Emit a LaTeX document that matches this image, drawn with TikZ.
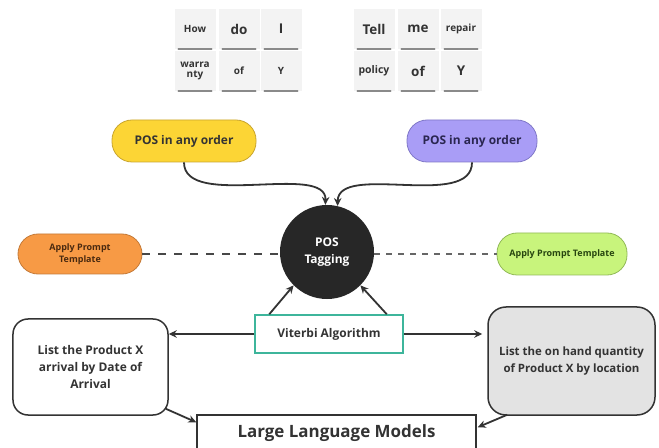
\documentclass[tikz,border=0pt]{standalone}
\usepackage{fontspec}
\setmainfont{Open Sans}
\usetikzlibrary{arrows.meta}
\definecolor{txt}{HTML}{333333}
\definecolor{tilebg}{HTML}{F3F3F3}
\definecolor{tileshadow}{HTML}{8A8A8A}
\definecolor{yfill}{HTML}{FCD535}
\definecolor{ydraw}{HTML}{C9A52E}
\definecolor{pfill}{HTML}{A99DF6}
\definecolor{pdraw}{HTML}{8078C8}
\definecolor{ofill}{HTML}{F79A45}
\definecolor{odraw}{HTML}{C47A38}
\definecolor{gfill}{HTML}{C8F47C}
\definecolor{gdraw}{HTML}{92BA58}
\definecolor{circfill}{HTML}{272727}
\definecolor{teal}{HTML}{3DB59B}
\definecolor{boxgray}{HTML}{E3E3E3}
\definecolor{linecol}{HTML}{333333}
\tikzset{
  tile/.style={rectangle, minimum width=41bp, minimum height=40bp, inner sep=0pt,
    fill=tilebg, align=center, text=txt, font=\bfseries\fontsize{10}{11}\selectfont},
  bigtile/.style={tile, font=\bfseries\fontsize{13.5}{15}\selectfont},
  pill/.style={rectangle, rounded corners=20bp, minimum height=42bp, line width=0.8bp,
    align=center, inner sep=2pt},
  arr/.style={-{Stealth[length=8bp,width=7.5bp]}, line width=1.8bp, draw=linecol},
}
\begin{document}
\begin{tikzpicture}[x=1bp,y=-1bp, font=\bfseries]
\clip (0,0) rectangle (659,448);
\fill[white] (0,0) rectangle (659,448);

% word tiles
\node[tile]    (t1) at (195,29) {How};
\node[bigtile] (t2) at (239,29) {do};
\node[bigtile] (t3) at (281,29) {I};
\node[tile]    (t4) at (195,71) {warra\\[-1pt]nty};
\node[tile]    (t5) at (239,71) {of};
\node[tile]    (t6) at (281,71) {Y};
\node[bigtile] (t7) at (374,29) {Tell};
\node[bigtile] (t8) at (418,29) {me};
\node[tile]    (t9) at (461,29) {repair};
\node[tile, font=\bfseries\fontsize{10.5}{12}\selectfont] (t10) at (374,71) {policy};
\node[bigtile] (t11) at (418,71) {of};
\node[bigtile] (t12) at (461,71) {Y};
\foreach \t in {t1,t2,t3,t4,t5,t6,t7,t8,t9,t10,t11,t12}{
  \draw[tileshadow, line width=1.5bp, line cap=round]
    ([shift={(4,0)}]\t.south west) -- ([shift={(-4,0)}]\t.south east);
}

% pills
\node[pill, minimum width=144bp, fill=yfill, draw=ydraw, text=txt,
  font=\bfseries\fontsize{12}{14}\selectfont] (ypill) at (184,141) {POS in any order};
\node[pill, minimum width=130bp, fill=pfill, draw=pdraw, text={rgb,255:red,42;green,38;blue,80},
  font=\bfseries\fontsize{12}{14}\selectfont] (ppill) at (472,141) {POS in any order};
\node[pill, minimum width=124bp, minimum height=40bp, fill=ofill, draw=odraw,
  text={rgb,255:red,74;green,42;blue,16},
  font=\bfseries\fontsize{9}{12}\selectfont] (opill) at (80,254) {Apply Prompt\\Template};
\node[pill, minimum width=130bp, fill=gfill, draw=gdraw,
  text={rgb,255:red,40;green,70;blue,16},
  font=\bfseries\fontsize{9}{12}\selectfont] (gpill) at (562,254) {Apply Prompt Template};

% central circle
\node[circle, minimum size=94bp, inner sep=0pt, fill=circfill, text=white, align=center,
  font=\bfseries\fontsize{12}{17}\selectfont] (circ) at (327,252) {POS\\Tagging};

% Viterbi
\node[rectangle, minimum width=148bp, minimum height=38bp, draw=teal, line width=1.5bp,
  fill=white, text=txt, font=\bfseries\fontsize{12}{14}\selectfont] (vit) at (329,334) {Viterbi Algorithm};

% side boxes
\node[rectangle, rounded corners=15bp, minimum width=155bp, minimum height=96bp,
  draw=linecol, line width=1.5bp, align=center, text=txt,
  font=\bfseries\fontsize{12}{17}\selectfont] (lbox) at (90.5,367)
  {List the Product X\\arrival by Date of\\Arrival};
\node[rectangle, rounded corners=18bp, minimum width=167bp, minimum height=108bp,
  draw=linecol, fill=boxgray, line width=1.5bp, align=center, text=txt,
  font=\bfseries\fontsize{11.5}{18}\selectfont] (rbox) at (571.5,361)
  {List the on hand quantity\\of Product X by location};

% LLM
\node[rectangle, minimum width=279bp, minimum height=36bp, draw=linecol, line width=1.5bp,
  text=txt, font=\bfseries\fontsize{17}{20}\selectfont] (llm) at (336.5,433) {Large Language Models};

% connectors
\draw[arr] (ypill.south) .. controls (184,210) and (327,162) .. (circ.92);
\draw[arr] (ppill.south) .. controls (472,210) and (338,162) .. (circ.77);
\draw[arr] ([shift={(15,0)}]vit.north west) -- (circ.-135);
\draw[arr] ([shift={(-17,0)}]vit.north east) -- (circ.-45);
\draw[arr] (vit.west) -- (vit.west -| lbox.east);
\draw[arr] (vit.east) -- ([shift={(-5,0)}]vit.east -| rbox.west);
\draw[linecol!90, line width=2.2bp, dash pattern=on 8bp off 8bp] (opill.east) -- (opill.east -| circ.west);
\draw[linecol!75, line width=1.6bp, dash pattern=on 6bp off 6bp] (circ.east |- gpill.west) -- (gpill.west);
\draw[arr] ([shift={(-3,-7)}]lbox.south east) -- ([shift={(0,8)}]llm.north west);
\draw[arr] ([shift={(20,-1)}]rbox.south west) -- ([shift={(1,13)}]llm.north east);
\end{tikzpicture}
\end{document}
